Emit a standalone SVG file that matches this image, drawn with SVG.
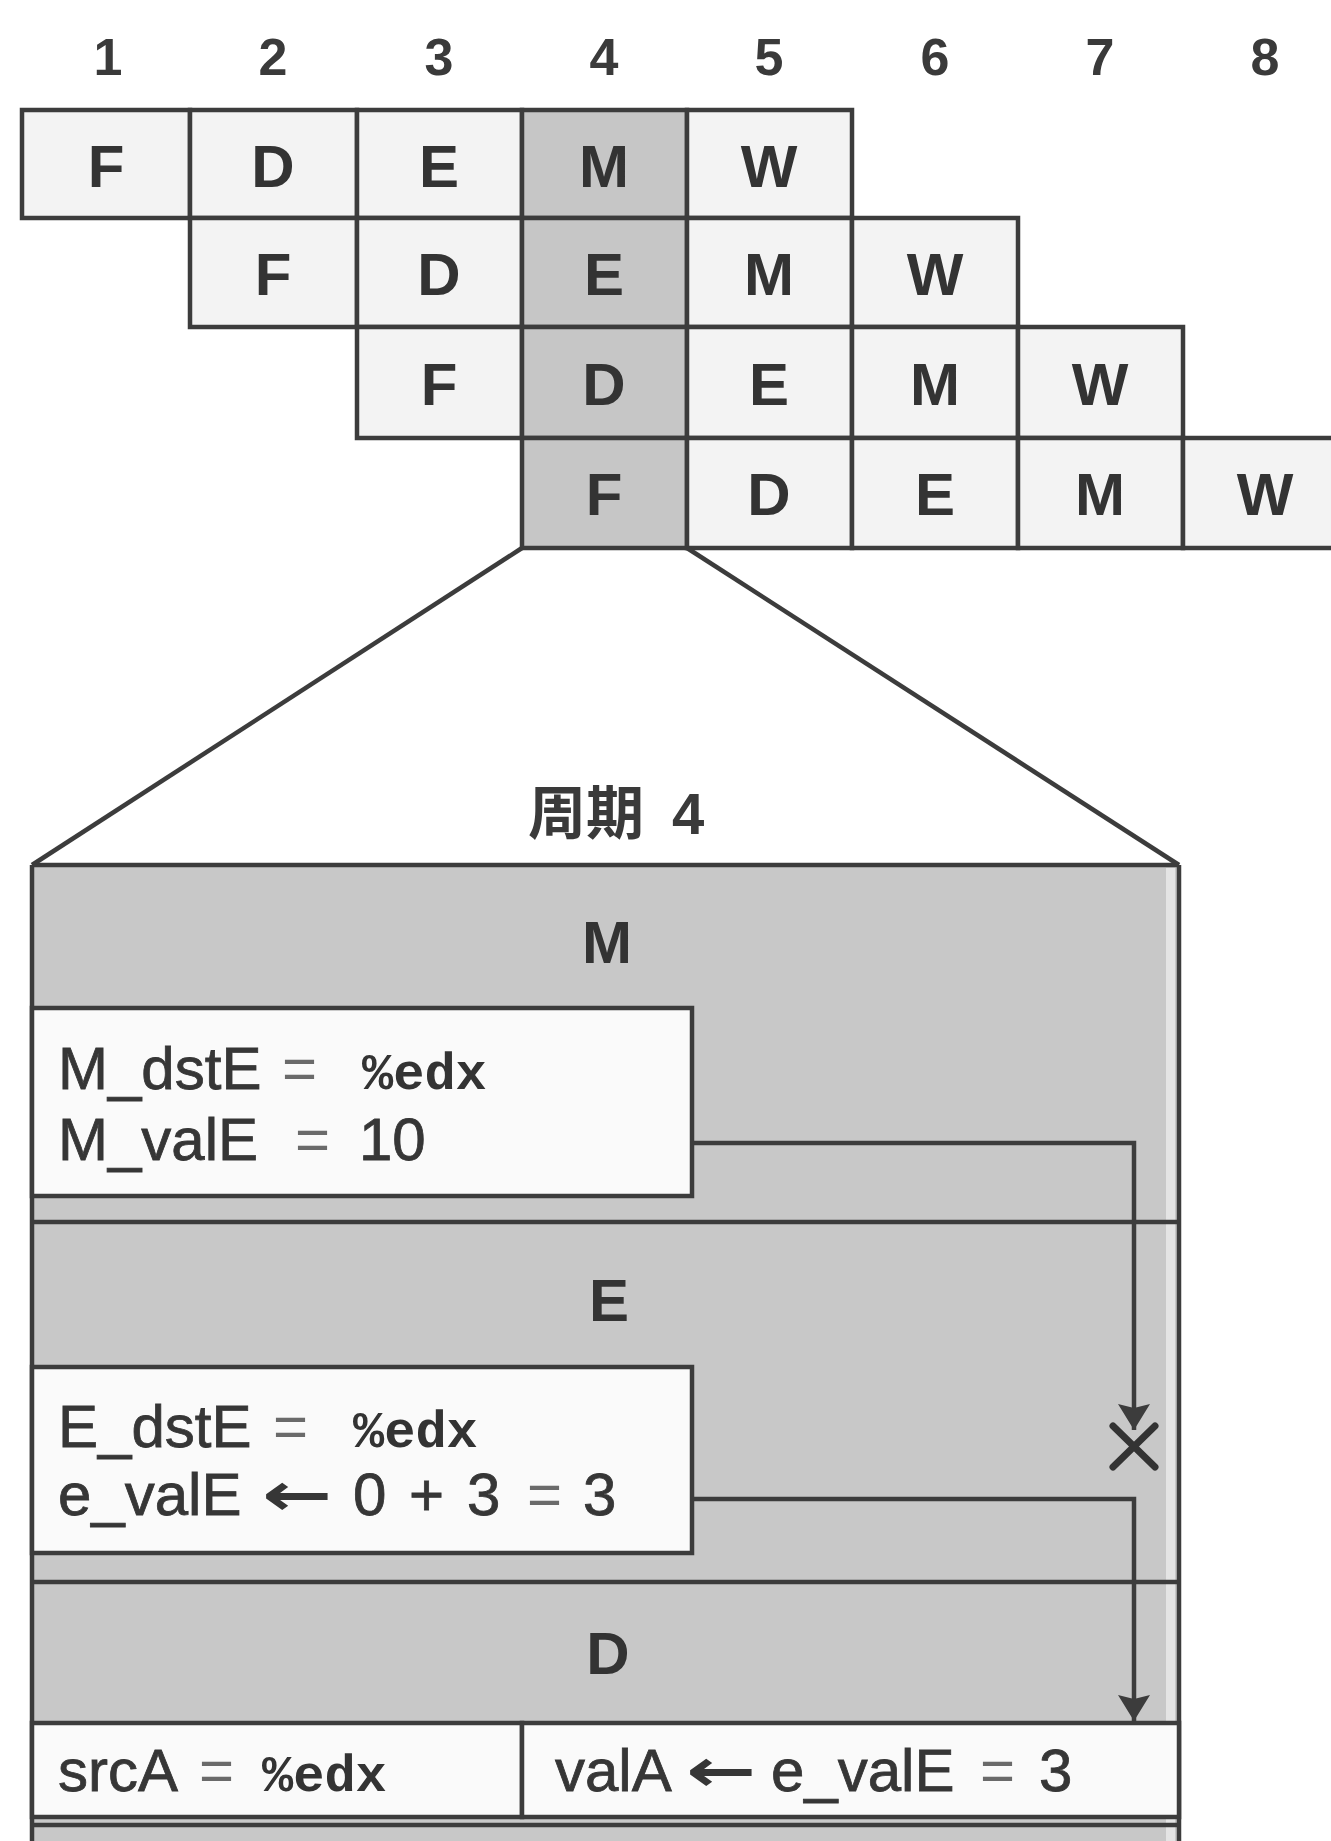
<svg xmlns="http://www.w3.org/2000/svg" width="1331" height="1841" viewBox="0 0 1331 1841">
<style>
  .cell { fill: #f3f3f3; stroke: #3c3c3c; stroke-width: 4.5; }
  .cellhi { fill: #c6c6c6; stroke: #3c3c3c; stroke-width: 4.5; }
  .num { font-family: "Liberation Sans", Arial, sans-serif; font-weight: bold; font-size: 52px; fill: #3a3a3a; text-anchor: middle; }
  .stg { font-family: "Liberation Sans", Arial, sans-serif; font-weight: bold; font-size: 60px; fill: #333333; text-anchor: middle; }
  .ln { fill: none; stroke: #3c3c3c; stroke-width: 4.5; }
  .band { fill: #c8c8c8; }
  .wbox { fill: #fafafa; stroke: #3c3c3c; stroke-width: 4.5; }
  .t { font-family: "Liberation Sans", Arial, sans-serif; font-size: 60px; fill: #363636; stroke: #363636; stroke-width: 0.8; }
  .eq { font-family: "Liberation Sans", Arial, sans-serif; font-size: 60px; fill: #6a6a6a; }
  .mono { font-family: "Liberation Mono", "Courier New", monospace; font-weight: bold; font-size: 52px; fill: #333333; }
  .arr { font-family: "DejaVu Sans", sans-serif; font-weight: bold; font-size: 60px; fill: #363636; }
  .title { font-family: "Noto Sans CJK SC", "Liberation Sans", sans-serif; font-weight: bold; font-size: 58px; fill: #3a3a3a; }
  .title4 { font-family: "Liberation Sans", Arial, sans-serif; font-weight: bold; font-size: 58px; fill: #3a3a3a; }
  .conn { fill: none; stroke: #3c3c3c; stroke-width: 4.5; }
</style>
<defs>
  <marker id="ah" viewBox="0 0 26 32" refX="26" refY="16" markerWidth="26" markerHeight="32" markerUnits="userSpaceOnUse" orient="auto">
    <path d="M0,0 L26,16 L0,32 L4,16 z" fill="#3c3c3c"/>
  </marker>
</defs>
<rect x="0" y="0" width="1331" height="1841" fill="#ffffff"/>

<g id="cycle-numbers">
  <text class="num" x="108" y="75">1</text>
  <text class="num" x="273" y="75">2</text>
  <text class="num" x="439" y="75">3</text>
  <text class="num" x="604" y="75">4</text>
  <text class="num" x="769" y="75">5</text>
  <text class="num" x="935" y="75">6</text>
  <text class="num" x="1100" y="75">7</text>
  <text class="num" x="1265" y="75">8</text>
</g>

<g id="instr-1">
  <rect class="cell" x="22" y="110" width="168" height="108"/>
  <rect class="cell" x="190" y="110" width="167" height="108"/>
  <rect class="cell" x="357" y="110" width="165" height="108"/>
  <rect class="cellhi" x="522" y="110" width="165" height="108"/>
  <rect class="cell" x="687" y="110" width="165" height="108"/>
  <text class="stg" x="106" y="187">F</text>
  <text class="stg" x="273" y="187">D</text>
  <text class="stg" x="439" y="187">E</text>
  <text class="stg" x="604" y="187">M</text>
  <text class="stg" x="769" y="187">W</text>
</g>
<g id="instr-2">
  <rect class="cell" x="190" y="218" width="167" height="109"/>
  <rect class="cell" x="357" y="218" width="165" height="109"/>
  <rect class="cellhi" x="522" y="218" width="165" height="109"/>
  <rect class="cell" x="687" y="218" width="165" height="109"/>
  <rect class="cell" x="852" y="218" width="166" height="109"/>
  <text class="stg" x="273" y="295">F</text>
  <text class="stg" x="439" y="295">D</text>
  <text class="stg" x="604" y="295">E</text>
  <text class="stg" x="769" y="295">M</text>
  <text class="stg" x="935" y="295">W</text>
</g>
<g id="instr-3">
  <rect class="cell" x="357" y="327" width="165" height="111"/>
  <rect class="cellhi" x="522" y="327" width="165" height="111"/>
  <rect class="cell" x="687" y="327" width="165" height="111"/>
  <rect class="cell" x="852" y="327" width="166" height="111"/>
  <rect class="cell" x="1018" y="327" width="165" height="111"/>
  <text class="stg" x="439" y="405">F</text>
  <text class="stg" x="604" y="405">D</text>
  <text class="stg" x="769" y="405">E</text>
  <text class="stg" x="935" y="405">M</text>
  <text class="stg" x="1100" y="405">W</text>
</g>
<g id="instr-4">
  <rect class="cellhi" x="522" y="438" width="165" height="110"/>
  <rect class="cell" x="687" y="438" width="165" height="110"/>
  <rect class="cell" x="852" y="438" width="166" height="110"/>
  <rect class="cell" x="1018" y="438" width="165" height="110"/>
  <rect class="cell" x="1183" y="438" width="160" height="110"/>
  <text class="stg" x="604" y="515">F</text>
  <text class="stg" x="769" y="515">D</text>
  <text class="stg" x="935" y="515">E</text>
  <text class="stg" x="1100" y="515">M</text>
  <text class="stg" x="1265" y="515">W</text>
</g>

<g id="zoom-lines">
  <line class="ln" x1="522" y1="548" x2="32" y2="865"/>
  <line class="ln" x1="687" y1="548" x2="1179" y2="865"/>
</g>

<g id="cycle4-title">
  <text class="title" x="528" y="834">周期</text>
  <text class="title4" x="672" y="834">4</text>
</g>

<g id="cycle4-frame">
  <rect class="band" x="32" y="865" width="1147" height="990"/>
  <rect x="1166" y="868" width="9" height="980" fill="#e4e4e4"/>
  <line class="ln" x1="32" y1="865" x2="1179" y2="865"/>
  <line class="ln" x1="32" y1="865" x2="32" y2="1845"/>
  <line class="ln" x1="1179" y1="865" x2="1179" y2="1845"/>
</g>

<g id="stage-M">
  <text class="stg" x="607" y="963">M</text>
  <rect class="wbox" x="32" y="1008" width="660" height="188"/>
  <text class="t" x="58" y="1089">M_dstE</text>
  <text class="eq" x="282" y="1089">=</text>
  <text class="mono" x="362" y="1089">%edx</text>
  <text class="t" x="58" y="1160">M_valE</text>
  <text class="eq" x="295" y="1160">=</text>
  <text class="t" x="359" y="1160">10</text>
  <line class="ln" x1="32" y1="1222" x2="1179" y2="1222"/>
</g>

<g id="stage-E">
  <text class="stg" x="609" y="1321">E</text>
  <rect class="wbox" x="32" y="1367" width="660" height="186"/>
  <text class="t" x="58" y="1447">E_dstE</text>
  <text class="eq" x="273" y="1447">=</text>
  <text class="mono" x="353" y="1447">%edx</text>
  <text class="t" x="58" y="1515">e_valE</text>
  <text class="arr" transform="translate(262,1515) scale(1.4,1)" x="0" y="0">←</text>
  <text class="t" x="353" y="1515">0</text>
  <text class="t" x="409" y="1515">+</text>
  <text class="t" x="467" y="1515">3</text>
  <text class="eq" x="527" y="1515">=</text>
  <text class="t" x="583" y="1515">3</text>
  <line class="ln" x1="32" y1="1582" x2="1179" y2="1582"/>
</g>

<g id="stage-D">
  <text class="stg" x="608" y="1674">D</text>
  <rect class="wbox" x="32" y="1723" width="490" height="94"/>
  <rect class="wbox" x="522" y="1723" width="657" height="94"/>
  <text class="t" x="58" y="1791">srcA</text>
  <text class="eq" x="199" y="1791">=</text>
  <text class="mono" x="262" y="1791">%edx</text>
  <text class="t" x="555" y="1791">valA</text>
  <text class="arr" transform="translate(686,1791) scale(1.4,1)" x="0" y="0">←</text>
  <text class="t" x="771" y="1791">e_valE</text>
  <text class="eq" x="980" y="1791">=</text>
  <text class="t" x="1039" y="1791">3</text>
  <line class="ln" x1="32" y1="1825" x2="1179" y2="1825"/>
</g>

<g id="connectors">
  <path class="conn" d="M692,1143 H1134 V1430" marker-end="url(#ah)"/>
  <g id="blocked" stroke="#333333" stroke-width="7" stroke-linecap="round">
    <line x1="1113" y1="1426" x2="1155" y2="1467"/>
    <line x1="1155" y1="1426" x2="1113" y2="1467"/>
  </g>
  <path class="conn" d="M692,1499 H1134 V1721" marker-end="url(#ah)"/>
</g>
</svg>
